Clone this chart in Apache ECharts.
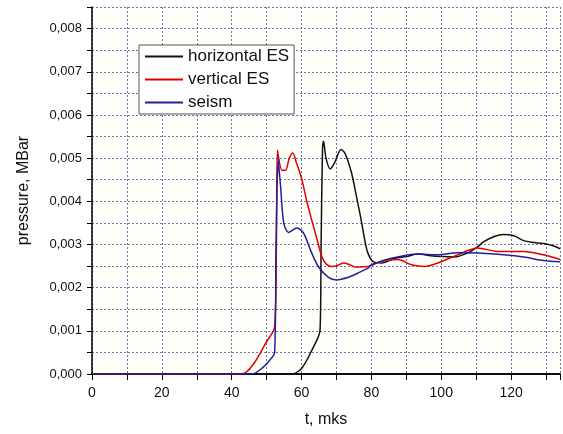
<!DOCTYPE html>
<html>
<head>
<meta charset="utf-8">
<title>pressure</title>
<script src="https://cdn.jsdelivr.net/npm/echarts@6/dist/echarts.min.js"></script>
<style>
    html,body{margin:0;padding:0;background:#fff;}
    #chart{width:563px;height:434px;}
</style>
</head>
<body>
<div id="chart"></div>
<script>
// t, mks / pressure, MBar
var horizontalT = [0, 57, 60, 63, 65.3, 65.6, 66.0, 66.3, 67, 68.2, 69.5, 71.3, 72.5, 74.3, 75.5, 77, 78.1, 79, 80.5, 83, 86.7, 90, 93.3, 97, 100, 103.7, 107.5, 110, 112.3, 115, 117.9, 120.8, 123.6, 126, 129.3, 132, 134];
var horizontalP = [0, 0, 0.00013, 0.00056, 0.00102, 0.0030, 0.0052, 0.00539, 0.0050, 0.00475, 0.0049, 0.0052, 0.0051, 0.00466, 0.0042, 0.0036, 0.0031, 0.0028, 0.0026, 0.00257, 0.00268, 0.00272, 0.00278, 0.00274, 0.00272, 0.00271, 0.0028, 0.00292, 0.00307, 0.00318, 0.00323, 0.0032, 0.00309, 0.00305, 0.00302, 0.00297, 0.0029];

var verticalT = [0, 43, 46.4, 49.7, 52.3, 52.8, 53.1, 54.4, 55.4, 56.5, 57.5, 58.5, 60.1, 61.5, 62.9, 64.5, 65.8, 67, 68.6, 70, 72, 73.5, 75.3, 79, 81.9, 84, 87.6, 91.4, 95.2, 99, 104.7, 110.4, 116, 123.6, 129.3, 134];
var verticalP = [0, 0, 0.00025, 0.00071, 0.0011, 0.003, 0.00518, 0.00472, 0.00472, 0.0050, 0.00512, 0.0049, 0.0045, 0.0040, 0.00357, 0.0031, 0.00272, 0.00255, 0.00249, 0.0025, 0.00257, 0.00254, 0.00248, 0.00249, 0.00258, 0.00262, 0.00265, 0.00253, 0.00249, 0.00257, 0.00276, 0.00292, 0.00284, 0.00284, 0.00276, 0.00265];

var seismT = [0, 45.8, 49.2, 51, 52.3, 52.7, 53.3, 53.6, 54, 54.9, 56.3, 58.7, 60.6, 62.5, 64.8, 67.7, 70, 73.4, 76.2, 79, 80, 85.7, 93.3, 99, 104.7, 110.4, 117.9, 123.6, 129.3, 134];
var seismP = [0, 0, 0.00017, 0.00033, 0.0005, 0.0030, 0.0050, 0.0047, 0.00435, 0.0035, 0.00328, 0.00338, 0.00326, 0.00288, 0.00249, 0.00224, 0.00218, 0.00224, 0.00234, 0.00245, 0.00253, 0.00268, 0.00278, 0.00276, 0.00281, 0.0028, 0.00276, 0.00271, 0.00263, 0.0026];

var seriesNames = ["horizontal ES", "vertical ES", "seism"];
var seriesColors = ["#111111", "#e00000", "#20209a"];

function pairs(t, p){
    var out = [];
    for(var i = 0; i < t.length; i++){
        out.push([t[i], p[i]]);
    }
    return out;
}

var font = "'Liberation Sans', Arial, sans-serif";
var gridLine = {show: true, lineStyle: {color: "#7070b4", width: 1, type: [2, 2]}};

var chart = echarts.init(document.getElementById("chart"));
var option = {
    animation: false,
    backgroundColor: "#ffffff",
    grid: {
        left: 92, right: 0, top: 7, bottom: 60,
        show: true,
        backgroundColor: "#fffffa",
        borderWidth: 0
    },
    legend: {
        left: 139, top: 45,
        orient: "vertical",
        padding: [3, 5, 3, 6],
        itemGap: 6,
        itemWidth: 38,
        itemHeight: 2,
        icon: "rect",
        backgroundColor: "#ffffff",
        borderColor: "#555555",
        borderWidth: 1,
        borderRadius: 0,
        textStyle: {fontFamily: font, fontSize: 17, color: "#111", padding: [0, 0, 0, 0]},
        data: seriesNames
    },
    xAxis: [{
        type: "value",
        min: 0, max: 134, interval: 10,
        name: "t, mks",
        nameLocation: "middle",
        nameGap: 38,
        nameTextStyle: {fontFamily: font, fontSize: 16, color: "#111"},
        axisLine: {show: true, onZero: false, lineStyle: {color: "#000", width: 1.5}},
        axisTick: {show: true, length: 6, lineStyle: {color: "#000"}},
        axisLabel: {
            fontFamily: font, fontSize: 14, color: "#111", margin: 12,
            formatter: function(v){ return v % 20 === 0 ? String(v) : ""; }
        },
        splitLine: gridLine
    },{
        // top border
        type: "value", position: "top",
        min: 0, max: 134,
        axisLine: {show: true, lineStyle: {color: "#000", width: 1.5}},
        axisTick: {show: false}, axisLabel: {show: false}, splitLine: {show: false}
    }],
    yAxis: {
        type: "value",
        min: 0, max: 0.0085, interval: 0.0005,
        name: "pressure, MBar",
        nameLocation: "middle",
        nameGap: 60,
        nameTextStyle: {fontFamily: font, fontSize: 16, color: "#111"},
        axisLine: {show: true, onZero: false, lineStyle: {color: "#000", width: 1.5}},
        axisTick: {show: true, length: 5, lineStyle: {color: "#000"}},
        axisLabel: {
            fontFamily: font, fontSize: 13, color: "#111", margin: 10,
            formatter: function(v){
                var k = Math.round(v * 10000);
                if(k % 10 !== 0 || k > 80) return "";
                return (k / 10000).toFixed(3).replace(".", ",");
            }
        },
        splitLine: gridLine
    },
    series: [
        {name: seriesNames[0], type: "line", data: pairs(horizontalT, horizontalP)},
        {name: seriesNames[1], type: "line", data: pairs(verticalT, verticalP)},
        {name: seriesNames[2], type: "line", data: pairs(seismT, seismP)}
    ].map(function(s, i){
        s.showSymbol = false;
        s.symbol = "none";
        s.smooth = 0.3;
        s.color = seriesColors[i];
        s.lineStyle = {color: seriesColors[i], width: 1.5};
        return s;
    })
};
chart.setOption(option);
</script>
</body>
</html>
